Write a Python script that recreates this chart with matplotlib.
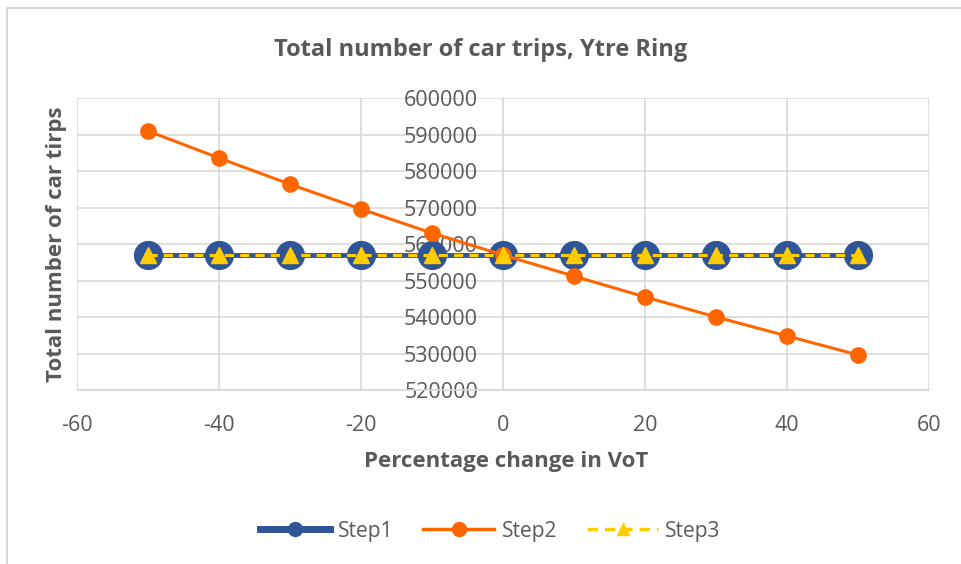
import matplotlib.pyplot as plt
from matplotlib.lines import Line2D

plt.rcParams['font.family'] = ['Open Sans', 'DejaVu Sans']
plt.rcParams['axes.unicode_minus'] = False

vot_change = [-50, -40, -30, -20, -10, 0, 10, 20, 30, 40, 50]
step1 = [557000] * 11
step2 = [591000, 583600, 576400, 569600, 563000, 557000, 551200, 545500, 540000, 534800, 529600]
step3 = [557000] * 11

grey_text = '#595959'
grid_col = '#d9d9d9'

fig = plt.figure(figsize=(9.61, 5.64), dpi=100)
ax = fig.add_axes([0.080, 0.3085, 0.887, 0.5175])

ax.plot(vot_change, step1, color='#2F5597', lw=3.5, marker='o', ms=20, label='Step1', zorder=3)
ax.plot(vot_change, step2, color='#FF6600', lw=2.2, marker='o', ms=11, label='Step2', zorder=4)
ax.plot(vot_change, step3, color='#FFCC00', lw=2.2, ls=(0, (3, 2)), marker='^', ms=11,
        label='Step3', zorder=5)

ax.set_xlim(-60, 60)
ax.set_ylim(520000, 600000)
ax.set_xticks(range(-60, 61, 20))
ax.set_yticks(range(520000, 600001, 10000))
ax.grid(True, color=grid_col, lw=1.2)
ax.set_axisbelow(True)

for s in ['top', 'right']:
    ax.spines[s].set_visible(False)
ax.spines['left'].set_position(('data', 0))
ax.spines['left'].set_color(grid_col)
ax.spines['bottom'].set_color(grid_col)
ax.spines['left'].set_linewidth(1.2)
ax.spines['bottom'].set_linewidth(1.2)
ax.tick_params(axis='y', length=0, pad=18, labelsize=15.5, labelcolor=grey_text)
ax.tick_params(axis='x', length=0, pad=18, labelsize=15.5, labelcolor=grey_text)

fig.text(0.5, 0.912, 'Total number of car trips, Ytre Ring', ha='center', va='center',
         fontsize=17, fontweight='bold', color=grey_text)
fig.text(0.527, 0.181, 'Percentage change in VoT', ha='center', va='center',
         fontsize=16, fontweight='bold', color=grey_text)
fig.text(0.059, 0.567, 'Total number of car tirps', ha='center', va='center', rotation=90,
         fontsize=16, fontweight='bold', color=grey_text)

leg = fig.legend(loc='center', bbox_to_anchor=(0.51, 0.058), ncol=3, frameon=False,
                 fontsize=15, labelcolor=grey_text, handlelength=3.4, handletextpad=0.35,
                 columnspacing=1.45)
for h, ms, lw in zip(leg.legend_handles, [10, 10, 9], [5, 2.5, 2.5]):
    h.set_markersize(ms)
    h.set_linewidth(lw)

# chart border (only top and left edges visible in the original)
fig.add_artist(Line2D([7 / 961, 7 / 961], [0, 1 - 8 / 564], color=grid_col, lw=1.5,
                      transform=fig.transFigure))
fig.add_artist(Line2D([7 / 961, 1], [1 - 8 / 564, 1 - 8 / 564], color=grid_col, lw=1.5,
                      transform=fig.transFigure))

fig.savefig('out.png', dpi=100)
